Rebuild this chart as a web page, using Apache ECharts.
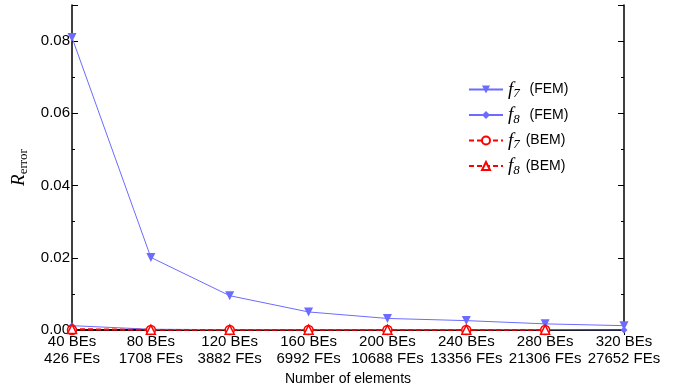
<!DOCTYPE html>
<html>
<head>
<meta charset="utf-8">
<script src="https://cdn.jsdelivr.net/npm/echarts@6/dist/echarts.min.js"></script>
<style>
  html, body { margin: 0; padding: 0; background: #fff; }
  #chart { width: 688px; height: 388px; }
</style>
</head>
<body>
<div id="chart"></div>
<script>
const categories = ["40 BEs\n426 FEs", "80 BEs\n1708 FEs", "120 BEs\n3882 FEs", "160 BEs\n6992 FEs",
  "200 BEs\n10688 FEs", "240 BEs\n13356 FEs", "280 BEs\n21306 FEs", "320 BEs\n27652 FEs"];
const f7FEM = [0.0810, 0.0201, 0.0095, 0.0050, 0.0032, 0.0026, 0.0017, 0.0012];
const f8FEM = [0.0012, 0.0002, 0.0001, 0.0001, 0.0001, 0.0001, 0.0001, 0.0000];
const f7BEM = [0.0000, 0.0000, 0.0000, 0.0000, 0.0000, 0.0000, 0.0000];
const f8BEM = [0.0003, 0.0001, 0.0001, 0.0001, 0.0001, 0.0001, 0.0001];
const yTicks = [0, 0.02, 0.04, 0.06, 0.08];

const blue = "#6b6bff";
const red = "#ff0000";
const legendText = {
  "f7 (FEM)": "{i|f}{s|7}  (FEM)",
  "f8 (FEM)": "{i|f}{s|8}  (FEM)",
  "f7 (BEM)": "{i|f}{s|7} (BEM)",
  "f8 (BEM)": "{i|f}{s|8} (BEM)"
};

let chart = echarts.init(document.getElementById("chart"));
let axisLine = { lineStyle: { color: "#000", width: 1.5 } };
let option = {
  animation: false,
  grid: { left: 72, right: 64, top: 5, bottom: 58, outerBoundsMode: "none", containLabel: false },
  legend: {
    orient: "vertical",
    left: 463,
    top: 75,
    itemGap: 5,
    itemWidth: 34,
    itemHeight: 10,
    data: Object.keys(legendText),
    formatter: (name) => legendText[name],
    textStyle: {
      fontFamily: "Liberation Sans",
      fontSize: 14,
      color: "#000",
      rich: {
        i: { fontFamily: "Liberation Serif", fontStyle: "italic", fontSize: 19, color: "#000" },
        s: { fontFamily: "Liberation Serif", fontStyle: "italic", fontSize: 13, color: "#000", padding: [9, 2, 0, 0] }
      }
    }
  },
  xAxis: [
    {
      type: "category",
      data: categories,
      boundaryGap: false,
      name: "Number of elements",
      nameLocation: "middle",
      nameGap: 38,
      nameTextStyle: { fontFamily: "Liberation Sans", fontSize: 14, color: "#000" },
      axisLine: axisLine,
      axisTick: { inside: true, length: 5, lineStyle: { color: "#000" } },
      axisLabel: { fontFamily: "Liberation Sans", fontSize: 15, color: "#000", lineHeight: 17, margin: 3, interval: 0 },
      splitLine: { show: false }
    },
    {
      type: "category",
      data: categories,
      boundaryGap: false,
      position: "top",
      axisLine: axisLine,
      axisTick: { inside: true, length: 5, lineStyle: { color: "#000" } },
      axisLabel: { show: false },
      splitLine: { show: false }
    }
  ],
  yAxis: [
    {
      type: "value",
      min: 0,
      max: 0.09,
      interval: 0.02,
      name: "{r|R}{e|error}",
      nameLocation: "middle",
      nameGap: 40,
      nameRotate: 90,
      nameTextStyle: {
        rich: {
          r: { fontFamily: "Liberation Serif", fontStyle: "italic", fontSize: 19, color: "#000" },
          e: { fontFamily: "Liberation Serif", fontSize: 13, color: "#000", padding: [8, 0, 0, 0] }
        }
      },
      axisLine: { show: true, lineStyle: { color: "#000", width: 1.5 } },
      axisTick: { show: true, inside: true, length: 6, lineStyle: { color: "#000" } },
      minorTick: { show: true, splitNumber: 2, length: 3, lineStyle: { color: "#000" } },
      axisLabel: {
        fontFamily: "Liberation Sans", fontSize: 15, color: "#000", margin: 2, showMaxLabel: false,
        formatter: (v) => yTicks.some((t) => Math.abs(t - v) < 1e-9) ? v.toFixed(2) : ""
      },
      splitLine: { show: false },
      minorSplitLine: { show: false }
    },
    {
      type: "value",
      min: 0,
      max: 0.09,
      interval: 0.02,
      position: "right",
      axisLine: { show: true, lineStyle: { color: "#000", width: 1.5 } },
      axisTick: { show: true, inside: true, length: 6, lineStyle: { color: "#000" } },
      minorTick: { show: true, splitNumber: 2, length: 3, lineStyle: { color: "#000" } },
      axisLabel: { show: false },
      splitLine: { show: false },
      minorSplitLine: { show: false }
    }
  ],
  series: [
    {
      name: "f7 (FEM)", type: "line", data: f7FEM,
      symbol: "triangle", symbolRotate: 180, symbolSize: 9,
      itemStyle: { color: blue },
      lineStyle: { color: blue, width: 1 }
    },
    {
      name: "f8 (FEM)", type: "line", data: f8FEM,
      symbol: "diamond", symbolSize: 7,
      itemStyle: { color: blue },
      lineStyle: { color: blue, width: 1 }
    },
    {
      name: "f7 (BEM)", type: "line", data: f7BEM,
      symbol: "circle", symbolSize: 9,
      itemStyle: { color: "#fff", borderColor: red, borderWidth: 1.5 },
      lineStyle: { color: red, width: 1.5, type: [5, 3] }
    },
    {
      name: "f8 (BEM)", type: "line", data: f8BEM,
      symbol: "triangle", symbolSize: 9,
      itemStyle: { color: "#fff", borderColor: red, borderWidth: 1.5 },
      lineStyle: { color: red, width: 1.5, type: [5, 3] }
    }
  ]
};
chart.setOption(option);
</script>
</body>
</html>
